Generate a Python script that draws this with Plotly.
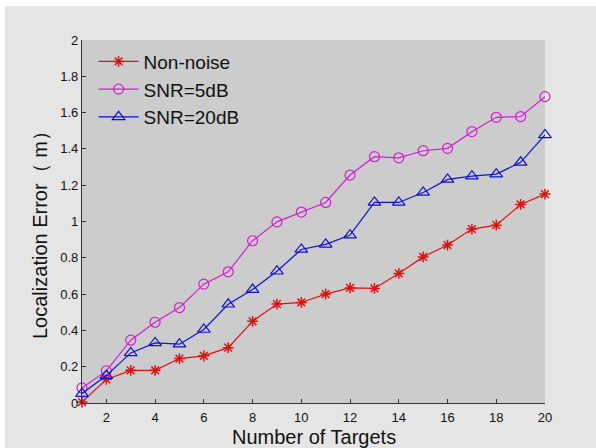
import plotly.graph_objects as go

targets = list(range(1, 21))
non_noise = [0.005, 0.13, 0.18, 0.18, 0.245, 0.26, 0.305, 0.45, 0.545, 0.554,
             0.60, 0.634, 0.631, 0.714, 0.805, 0.87, 0.958, 0.98, 1.094, 1.151]
snr5 = [0.083, 0.177, 0.346, 0.445, 0.526, 0.655, 0.723, 0.894, 0.998, 1.052,
        1.105, 1.256, 1.357, 1.351, 1.39, 1.403, 1.495, 1.574, 1.578, 1.688]
snr20 = [0.052, 0.151, 0.276, 0.331, 0.324, 0.405, 0.544, 0.625, 0.726, 0.846,
         0.874, 0.925, 1.105, 1.105, 1.16, 1.232, 1.25, 1.261, 1.326, 1.477]
x_ticks = list(range(2, 21, 2))
y_ticks = [0, 0.2, 0.4, 0.6, 0.8, 1, 1.2, 1.4, 1.6, 1.8, 2]
y_tick_labels = ["0", "0.2", "0.4", "0.6", "0.8", "1", "1.2", "1.4", "1.6", "1.8", "2"]
x_title = "Number of Targets"
y_title = "Localization Error（ m）"

fig = go.Figure()
fig.add_trace(go.Scatter(x=targets, y=non_noise, name="Non-noise", mode="lines+markers",
                         line=dict(color="#e01010", width=1.2),
                         marker=dict(symbol="asterisk-open", size=9, line=dict(color="#e01010", width=1.5))))
fig.add_trace(go.Scatter(x=targets, y=snr5, name="SNR=5dB", mode="lines+markers",
                         line=dict(color="#d020d0", width=1.2),
                         marker=dict(symbol="circle-open", size=10, line=dict(color="#d020d0", width=1.2))))
fig.add_trace(go.Scatter(x=targets, y=snr20, name="SNR=20dB", mode="lines+markers",
                         line=dict(color="#1010d0", width=1.2),
                         marker=dict(symbol="triangle-up-open", size=11, line=dict(color="#1010d0", width=1.2))))

W, H = 596, 448
L, R, T, B = 82, 51, 40, 45
pw, ph = W - L - R, H - T - B

fig.update_layout(
    width=W, height=H,
    margin=dict(l=L, r=R, t=T, b=B),
    paper_bgcolor="#e5e5e5",
    plot_bgcolor="#cccccc",
    font=dict(family="Arial, Liberation Sans, sans-serif", color="#111111"),
    showlegend=True,
    legend=dict(x=0.025, y=0.993, xanchor="left", yanchor="top", bgcolor="rgba(0,0,0,0)",
                font=dict(size=19, color="#111111"), tracegroupgap=0, itemwidth=40),
    xaxis=dict(range=[1, 20], tickvals=x_ticks, ticks="inside", ticklen=4, tickcolor="#333333",
               showline=True, linecolor="#333333", linewidth=1.2, showgrid=False, zeroline=False,
               ticklabelstandoff=2, automargin=False, tickfont=dict(size=13)),
    yaxis=dict(range=[0, 2], tickvals=y_ticks, ticktext=y_tick_labels, ticks="inside", ticklen=4,
               tickcolor="#333333", showline=True, linecolor="#333333", linewidth=1.2, showgrid=False,
               zeroline=False, tickfont=dict(size=13), automargin=False),
    annotations=[
        dict(text=x_title, xref="paper", yref="paper", x=0.5, y=(H - B - 437) / ph,
             xanchor="center", yanchor="middle", showarrow=False, font=dict(size=20)),
        dict(text=y_title, xref="paper", yref="paper", x=(40 - L) / pw, y=(H - B - 230) / ph,
             xanchor="center", yanchor="middle", textangle=-90, showarrow=False, font=dict(size=20)),
    ],
    shapes=[
        dict(type="rect", xref="paper", yref="paper", x0=-L / pw, x1=(W - L) / pw,
             y0=(ph + T - 6) / ph, y1=(ph + T) / ph,
             fillcolor="white", line=dict(width=0), layer="above"),
        dict(type="rect", xref="paper", yref="paper", x0=-L / pw, x1=(5 - L) / pw,
             y0=-B / ph, y1=(ph + T) / ph,
             fillcolor="white", line=dict(width=0), layer="above"),
    ],
)
fig.update_traces(cliponaxis=False)
fig.write_html("out.html", config={"displayModeBar": False},
               post_script="document.body.style.margin='0px';")
